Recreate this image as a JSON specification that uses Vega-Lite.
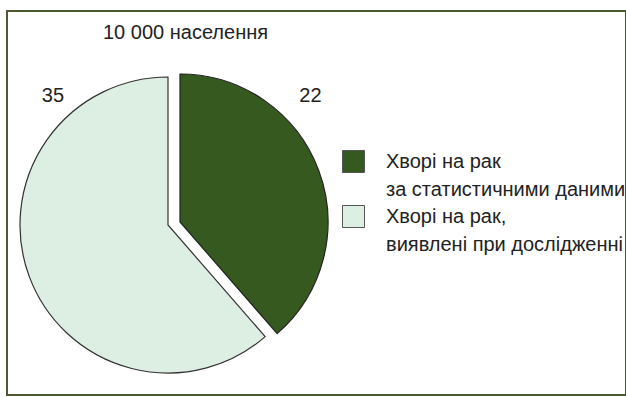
{
  "$schema": "https://vega.github.io/schema/vega-lite/v6.json",
  "autosize": "none",
  "width": 619,
  "height": 384,
  "padding": {"left": 7, "top": 11, "right": 0, "bottom": 2},
  "background": "white",
  "view": {"stroke": "#4b5a35", "strokeWidth": 2, "fill": "white"},
  "title": {
    "text": "10 000 населення",
    "anchor": "start",
    "frame": "group",
    "dx": 96,
    "dy": 36,
    "fontSize": 20,
    "font": "Liberation Sans",
    "fontWeight": "normal",
    "color": "#222222"
  },
  "data": {
    "values": [
      {"label": "Хворі на рак\nза статистичними даними", "value": 22},
      {"label": "Хворі на рак,\nвиявлені при дослідженні", "value": 35}
    ]
  },
  "transform": [
    {"stack": "value", "groupby": [], "sort": [{"field": "label", "order": "ascending"}], "as": ["v0", "v1"]}
  ],
  "layer": [
    {
      "transform": [{"filter": {"field": "value", "equal": 35}}],
      "mark": {"type": "arc", "x": 161, "y": 214, "radius": 148, "stroke": "#333333", "strokeWidth": 1.2},
      "encoding": {
        "theta": {"field": "v0", "type": "quantitative", "stack": null, "scale": {"domain": [0, 57], "range": [0, 6.283185]}},
        "theta2": {"field": "v1"},
        "color": {
          "field": "label", "type": "nominal",
          "scale": {"domain": ["Хворі на рак\nза статистичними даними", "Хворі на рак,\nвиявлені при дослідженні"], "range": ["#36591f", "#ddeee3"]},
          "legend": {
            "title": null,
            "orient": "none",
            "legendX": 335,
            "legendY": 139,
            "symbolType": "square",
            "symbolSize": 484,
            "symbolStrokeColor": "#555555",
            "symbolStrokeWidth": 1,
            "labelFont": "Liberation Sans",
            "labelFontSize": 20,
            "labelColor": "#222222",
            "labelLimit": 0,
            "labelOffset": 21,
            "labelExpr": "split(datum.label, '\\n')",
            "rowPadding": 3,
            "encode": {"labels": {"update": {"lineHeight": {"value": 28}}}}
          }
        }
      }
    },
    {
      "transform": [{"filter": {"field": "value", "equal": 22}}],
      "mark": {"type": "arc", "x": 161, "y": 214, "xOffset": 12, "yOffset": -3, "radius": 148, "stroke": "#222222", "strokeWidth": 1.2},
      "encoding": {
        "theta": {"field": "v0", "type": "quantitative", "stack": null},
        "theta2": {"field": "v1"},
        "color": {"field": "label", "type": "nominal"}
      }
    },
    {
      "transform": [{"filter": {"field": "value", "equal": 22}}],
      "mark": {"type": "text", "x": 161, "y": 214, "radius": 192, "thetaOffset": 0.836, "font": "Liberation Sans", "fontSize": 20, "color": "#222222", "align": "center", "baseline": "middle"},
      "encoding": {
        "theta": {"field": "v0", "type": "quantitative", "stack": null},
        "text": {"field": "value", "type": "quantitative"}
      }
    },
    {
      "transform": [{"filter": {"field": "value", "equal": 35}}],
      "mark": {"type": "text", "x": 161, "y": 214, "radius": 173, "thetaOffset": -0.728, "font": "Liberation Sans", "fontSize": 20, "color": "#222222", "align": "center", "baseline": "middle"},
      "encoding": {
        "theta": {"field": "v1", "type": "quantitative", "stack": null},
        "text": {"field": "value", "type": "quantitative"}
      }
    }
  ]
}
